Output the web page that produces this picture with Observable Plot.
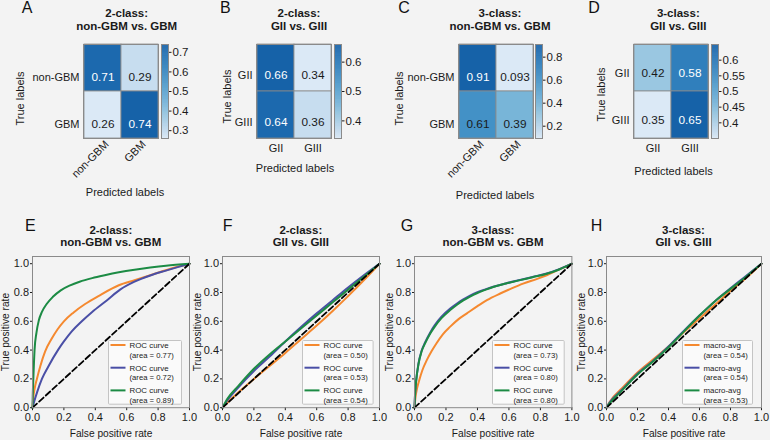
<!DOCTYPE html>
<html><head><meta charset="utf-8">
<script src="https://cdn.jsdelivr.net/npm/d3@7"></script>
<script src="https://cdn.jsdelivr.net/npm/@observablehq/plot@0.6"></script>
<style>
html,body{margin:0;padding:0;background:#f3f3f3;}
#fig{position:relative;width:770px;height:440px;overflow:hidden;background:#f3f3f3;font-family:"Liberation Sans",Arial,Helvetica,sans-serif;color:#1a1a1a;}
.title{position:absolute;width:200px;text-align:center;font-weight:bold;font-size:11.5px;line-height:12.5px;white-space:nowrap;}
.letter{position:absolute;font-size:16px;line-height:16px;color:#111;}
#fig svg{overflow:visible;}
</style></head><body><div id="fig"></div><script>
// ---------- DATA ----------
const classesGBM = ["non-GBM", "GBM"];
const classesGrade = ["GII", "GIII"];
const cmA = [[0.71, 0.29], [0.26, 0.74]];
const cmB = [[0.66, 0.34], [0.64, 0.36]];
const cmC = [[0.91, 0.093], [0.61, 0.39]];
const cmD = [[0.42, 0.58], [0.35, 0.65]];
const cbTicksA = [0.3, 0.4, 0.5, 0.6, 0.7];
const cbTicksB = [0.4, 0.5, 0.6];
const cbTicksC = [0.2, 0.4, 0.6, 0.8];
const cbTicksD = [0.4, 0.45, 0.5, 0.55, 0.6];
const rocTicks = [0, 0.2, 0.4, 0.6, 0.8, 1.0];
const chanceLine = [[0, 0], [1, 1]];

const E_orange = [[0,0],[0.005,0.07],[0.015,0.14],[0.028,0.2],[0.05,0.29],[0.08,0.39],[0.12,0.475],[0.16,0.545],[0.2,0.6],[0.26,0.66],[0.335,0.72],[0.42,0.775],[0.55,0.85],[0.65,0.885],[0.75,0.92],[0.85,0.955],[0.93,0.98],[1,1]];
const E_blue = [[0,0],[0.01,0.04],[0.03,0.11],[0.06,0.2],[0.1,0.285],[0.165,0.405],[0.2,0.46],[0.25,0.53],[0.314,0.6],[0.38,0.665],[0.473,0.745],[0.558,0.82],[0.65,0.875],[0.75,0.918],[0.85,0.952],[0.93,0.978],[1,1]];
const E_green = [[0,0],[0.002,0.1],[0.006,0.22],[0.013,0.4],[0.025,0.52],[0.04,0.605],[0.06,0.665],[0.09,0.72],[0.13,0.77],[0.18,0.815],[0.24,0.85],[0.3,0.875],[0.38,0.9],[0.46,0.92],[0.55,0.94],[0.65,0.958],[0.75,0.973],[0.85,0.986],[1,1]];

const F_orange = [[0,0],[0.05,0.055],[0.1,0.105],[0.2,0.2],[0.3,0.29],[0.4,0.38],[0.5,0.475],[0.6,0.57],[0.7,0.67],[0.8,0.775],[0.9,0.885],[1,1]];
const F_blue = [[0,0],[0.03,0.05],[0.1,0.14],[0.2,0.255],[0.3,0.355],[0.4,0.46],[0.5,0.56],[0.6,0.655],[0.7,0.745],[0.8,0.835],[0.9,0.92],[1,1]];
const F_green = [[0,0],[0.03,0.06],[0.1,0.15],[0.2,0.27],[0.3,0.37],[0.4,0.46],[0.5,0.55],[0.6,0.64],[0.7,0.73],[0.8,0.82],[0.9,0.91],[1,1]];

const G_orange = [[0,0],[0.005,0.06],[0.01,0.1],[0.03,0.19],[0.05,0.26],[0.078,0.33],[0.11,0.395],[0.14,0.448],[0.18,0.51],[0.227,0.563],[0.28,0.615],[0.333,0.655],[0.4,0.705],[0.46,0.747],[0.545,0.793],[0.6,0.82],[0.69,0.862],[0.78,0.895],[0.84,0.92],[0.92,0.96],[1,1]];
const G_blue = [[0,0],[0.003,0.08],[0.01,0.18],[0.025,0.305],[0.045,0.395],[0.068,0.455],[0.1,0.523],[0.13,0.575],[0.17,0.63],[0.227,0.688],[0.27,0.723],[0.31,0.752],[0.35,0.776],[0.396,0.8],[0.45,0.822],[0.5,0.84],[0.58,0.863],[0.67,0.887],[0.75,0.908],[0.84,0.932],[0.92,0.962],[1,1]];
const G_green = [[0,0],[0.003,0.08],[0.01,0.18],[0.025,0.3],[0.045,0.39],[0.068,0.448],[0.1,0.515],[0.13,0.565],[0.17,0.62],[0.227,0.678],[0.27,0.715],[0.31,0.745],[0.35,0.77],[0.396,0.795],[0.45,0.818],[0.5,0.838],[0.58,0.862],[0.67,0.886],[0.75,0.906],[0.84,0.93],[0.92,0.96],[1,1]];

const H_orange = [[0,0],[0.02,0.04],[0.1,0.135],[0.2,0.245],[0.3,0.335],[0.4,0.425],[0.5,0.525],[0.6,0.62],[0.7,0.715],[0.8,0.81],[0.9,0.9],[1,1]];
const H_blue = [[0,0],[0.02,0.035],[0.1,0.125],[0.2,0.235],[0.3,0.325],[0.4,0.425],[0.5,0.535],[0.6,0.64],[0.7,0.74],[0.8,0.83],[0.9,0.915],[1,1]];
const H_green = [[0,0],[0.02,0.03],[0.1,0.12],[0.2,0.23],[0.3,0.32],[0.4,0.42],[0.5,0.53],[0.6,0.64],[0.7,0.74],[0.8,0.825],[0.9,0.91],[1,1]];

const areasE = [0.77, 0.72, 0.89];
const areasF = [0.50, 0.53, 0.54];
const areasG = [0.73, 0.80, 0.80];
const areasH = [0.54, 0.54, 0.53];
const curveNameROC = "ROC curve";
const curveNameMacro = "macro-avg";

// ---------- STYLE / LAYOUT ----------
const FONT = '"Liberation Sans", Arial, Helvetica, sans-serif';
const lineColors = ["#f5892f", "#4a4fa6", "#1c8b44"];
const gridStroke = "#8a8a8a";
const blues = t => d3.interpolateBlues(0.14 + 0.67 * Math.pow(Math.max(0, Math.min(1, t)), 0.7));
const fig = document.getElementById("fig");
function place(el, left, top) {
  el.style.position = "absolute";
  el.style.left = left + "px";
  el.style.top = top + "px";
  fig.appendChild(el);
}
function addTitle(lines, cx, top) {
  const d = document.createElement("div");
  d.className = "title";
  d.innerHTML = lines.join("<br>");
  d.style.left = (cx - 100) + "px";
  d.style.top = top + "px";
  fig.appendChild(d);
}
function addLetter(ch, left, capTop) {
  const d = document.createElement("div");
  d.className = "letter";
  d.textContent = ch;
  d.style.left = left + "px";
  d.style.top = (capTop - 2.1) + "px";
  fig.appendChild(d);
}

// ---------- HEATMAPS ----------
const HM_TOP = 44, HM_W = 75, HM_H = 94;
const heatPanels = [
  {letter: "A", letterX: 21.7, title: ["2-class:", "non-GBM vs. GBM"], titleX: 126.7, rows: classesGBM, cols: classesGBM, values: cmA, cbTicks: cbTicksA, left: 82.5, cbLeft: 160.5, rotate: true, textDy: 9, trueDx: -63.5, trueDy: 7, predDx: 4, predDy: 54},
  {letter: "B", letterX: 220, title: ["2-class:", "GII vs. GIII"], titleX: 299, rows: classesGrade, cols: classesGrade, values: cmB, cbTicks: cbTicksB, left: 256, cbLeft: 334, rotate: false, textDy: 7, trueDx: -29.3, trueDy: 5, predDx: 1, predDy: 29.6},
  {letter: "C", letterX: 398.3, title: ["3-class:", "non-GBM vs. GBM"], titleX: 500, rows: classesGBM, cols: classesGBM, values: cmC, cbTicks: cbTicksC, left: 457.7, cbLeft: 535, rotate: true, textDy: 9, trueDx: -58.7, trueDy: 7, predDx: -1, predDy: 57},
  {letter: "D", letterX: 588.3, title: ["3-class:", "GII vs. GIII"], titleX: 678.3, rows: classesGrade, cols: classesGrade, values: cmD, cbTicks: cbTicksD, left: 633.3, cbLeft: 711, rotate: false, textDy: 5, trueDx: -31.6, trueDy: 3, predDx: 2.5, predDy: 33}
];

for (const p of heatPanels) {
  const data = p.rows.flatMap((r, i) => p.cols.map((c, j) => ({row: r, col: c, v: p.values[i][j]})));
  const vmin = d3.min(data, d => d.v), vmax = d3.max(data, d => d.v);
  const color = {type: "linear", domain: [vmin, vmax], interpolate: blues};
  const dark = d => (d.v - vmin) / (vmax - vmin) > 0.7;
  const mL = 70, mR = 2, mT = 10, mB = 70;
  const svg = Plot.plot({
    width: mL + HM_W + mR, height: mT + HM_H + mB,
    marginLeft: mL, marginRight: mR, marginTop: mT, marginBottom: mB,
    style: {background: "transparent", fontFamily: FONT, fontSize: "11px", color: "#1a1a1a"},
    x: {domain: p.cols, padding: 0, axis: null},
    y: {domain: p.rows, padding: 0, axis: null},
    color,
    marks: [
      Plot.cell(data, {x: "col", y: "row", fill: "v", stroke: gridStroke, strokeWidth: 0.8}),
      Plot.text(data, {filter: d => dark(d), x: "col", y: "row", text: d => String(d.v), dy: p.textDy, fontSize: 11.8, fill: "white"}),
      Plot.text(data, {filter: d => !dark(d), x: "col", y: "row", text: d => String(d.v), dy: p.textDy, fontSize: 11.8, fill: "#1a1a1a"}),
      Plot.frame({stroke: gridStroke}),
      Plot.axisY({tickSize: 0, tickPadding: 4, dy: p.textDy, label: null, fontSize: 11}),
      p.rotate
        ? Plot.axisX({tickSize: 0, tickPadding: 4, tickRotate: -45, dx: 4, label: null, fontSize: 11})
        : Plot.axisX({tickSize: 0, tickPadding: 6, label: null, fontSize: 11}),
      Plot.text(["True labels"], {frameAnchor: "left", dx: p.trueDx, dy: p.trueDy, rotate: -90, textAnchor: "middle", lineAnchor: "middle", fontSize: 11}),
      Plot.text(["Predicted labels"], {frameAnchor: "bottom", dx: p.predDx, dy: p.predDy, textAnchor: "middle", lineAnchor: "middle", fontSize: 11})
    ]
  });
  place(svg, p.left - mL, HM_TOP - mT);

  // colorbar
  const N = 200, step = (vmax - vmin) / N;
  const steps = d3.range(N).map(i => vmin + step * i);
  const cb = Plot.plot({
    width: 7 + 34, height: 10 + HM_H + 10,
    marginLeft: 0, marginRight: 34, marginTop: 10, marginBottom: 10,
    style: {background: "transparent", fontFamily: FONT, fontSize: "11.5px", color: "#1a1a1a"},
    y: {domain: [vmin, vmax], axis: null},
    color,
    marks: [
      Plot.rect(steps, {y1: d => d, y2: d => Math.min(vmax, d + step * 1.6), fill: d => d + step / 2}),
      Plot.frame({stroke: gridStroke}),
      Plot.axisY({anchor: "right", ticks: p.cbTicks, tickFormat: d => String(+d.toFixed(2)), tickSize: 2.5, tickPadding: 1.5, label: null, fontSize: 11.5})
    ]
  });
  place(cb, p.cbLeft, HM_TOP - 10);

  addTitle(p.title, p.titleX, 7.05);
  addLetter(p.letter, p.letterX, 1.7);
}

// ---------- ROC PANELS ----------
const ROC_TOP = 256.3, ROC_H = 151.2;
const rocPanels = [
  {letter: "E", letterX: 25, title: ["2-class:", "non-GBM vs. GBM"], left: 32.3, right: 189.3, curves: [E_orange, E_blue, E_green], areas: areasE, name: curveNameROC, yLabDx: -27, leg: {l: 107.5, w: 74}},
  {letter: "F", letterX: 222.7, title: ["2-class:", "GII vs. GIII"], left: 222.3, right: 379.3, curves: [F_orange, F_blue, F_green], areas: areasF, name: curveNameROC, yLabDx: -24.5, leg: {l: 301.7, w: 71.6}},
  {letter: "G", letterX: 400.7, title: ["3-class:", "non-GBM vs. GBM"], left: 414.3, right: 571.7, curves: [G_orange, G_blue, G_green], areas: areasG, name: curveNameROC, yLabDx: -25, leg: {l: 492.3, w: 72.7}},
  {letter: "H", letterX: 590.7, title: ["3-class:", "GII vs. GIII"], left: 606, right: 761, curves: [H_orange, H_blue, H_green], areas: areasH, name: curveNameMacro, yLabDx: -24.3, leg: {l: 681.7, w: 71}}
];

const f1 = d3.format(".1f");
for (const p of rocPanels) {
  const W = p.right - p.left;
  const mL = 36, mR = 8, mT = 6, mB = 36;
  const marks = [];
  p.curves.forEach((c, i) => marks.push(Plot.line(c, {x: d => d[0], y: d => d[1], stroke: lineColors[i], strokeWidth: 2, curve: "monotone-x"})));
  marks.push(Plot.line(chanceLine, {x: d => d[0], y: d => d[1], stroke: "#000", strokeWidth: 1.8, strokeDasharray: "6,3"}));
  marks.push(Plot.frame({stroke: gridStroke}));
  marks.push(Plot.text(["False positive rate"], {frameAnchor: "bottom", dy: 26.5, lineAnchor: "middle", textAnchor: "middle", fontSize: 10.2}));
  marks.push(Plot.text(["True positive rate"], {frameAnchor: "left", dx: p.yLabDx, rotate: -90, lineAnchor: "middle", textAnchor: "middle", fontSize: 10.2}));
  const svg = Plot.plot({
    width: mL + W + mR, height: mT + ROC_H + mB,
    marginLeft: mL, marginRight: mR, marginTop: mT, marginBottom: mB,
    style: {background: "transparent", fontFamily: FONT, fontSize: "11px", color: "#1a1a1a"},
    x: {domain: [0, 1], ticks: rocTicks, tickFormat: f1, tickSize: 3, tickPadding: 2, label: null},
    y: {domain: [0, 1.05], ticks: rocTicks, tickFormat: f1, tickSize: 2, tickPadding: 1.5, label: null},
    marks
  });
  place(svg, p.left - mL, ROC_TOP - mT);

  // legend box
  const lw = p.leg.w, lh = 64.7, ns = "http://www.w3.org/2000/svg";
  const lg = document.createElementNS(ns, "svg");
  lg.setAttribute("width", lw); lg.setAttribute("height", lh);
  let html = `<rect x="0.5" y="0.5" width="${lw - 1}" height="${lh - 1}" fill="rgba(255,255,255,0.55)" stroke="#c4c4c4" stroke-width="1" rx="1"/>`;
  p.areas.forEach((a, i) => {
    const y = 5 + 22.7 * i;
    html += `<line x1="2.5" x2="17.5" y1="${y}" y2="${y}" stroke="${lineColors[i]}" stroke-width="2"/>`;
    html += `<text x="21.5" y="${y + 2.8}" font-size="7.9" fill="#222" font-family='${FONT}'>${p.name}</text>`;
    html += `<text x="21.5" y="${y + 12.5}" font-size="7.7" fill="#222" font-family='${FONT}'>(area = ${a.toFixed(2)})</text>`;
  });
  lg.innerHTML = html;
  place(lg, p.leg.l, 340.3);

  addTitle(p.title, (p.left + p.right) / 2, 223.75);
  addLetter(p.letter, p.letterX, 220);
}
</script></body></html>
